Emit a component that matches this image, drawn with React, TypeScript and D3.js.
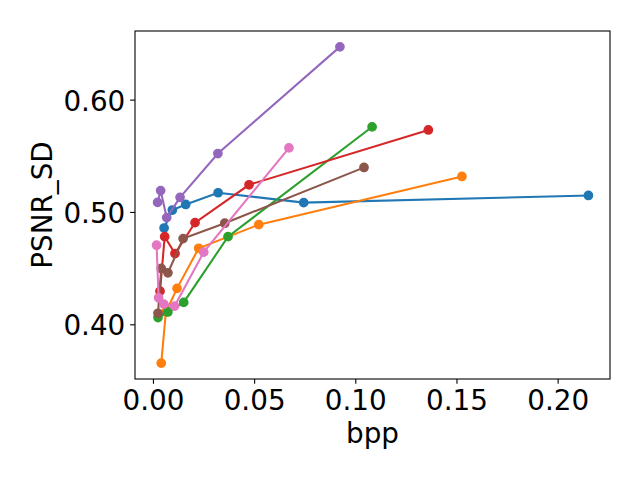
import React, { useEffect, useRef } from "react";
import * as d3 from "d3";

// values, one array pair per run
const colors = ["#1f77b4", "#ff7f0e", "#2ca02c", "#d62728", "#9467bd", "#8c564b", "#e377c2"];

const bpp0 = [0.0055, 0.0096, 0.0162, 0.0322, 0.0745, 0.2152];
const psnr0 = [0.4857, 0.5017, 0.5067, 0.5171, 0.5083, 0.5147];

const bpp1 = [0.0041, 0.0064, 0.0119, 0.0226, 0.0523, 0.1527];
const psnr1 = [0.3654, 0.411, 0.432, 0.4677, 0.4887, 0.5316];

const bpp2 = [0.0025, 0.0074, 0.0152, 0.0371, 0.1083];
const psnr2 = [0.406, 0.411, 0.4195, 0.478, 0.5757];

const bpp3 = [0.0035, 0.0058, 0.0109, 0.0208, 0.0475, 0.1361];
const psnr3 = [0.4295, 0.478, 0.463, 0.4905, 0.5242, 0.573];

const bpp4 = [0.0023, 0.0038, 0.0068, 0.0134, 0.0321, 0.0924];
const psnr4 = [0.5085, 0.519, 0.495, 0.513, 0.552, 0.647];

const bpp5 = [0.0025, 0.0041, 0.0074, 0.0149, 0.0355, 0.1043];
const psnr5 = [0.4098, 0.4497, 0.4458, 0.4763, 0.49, 0.5396];

const bpp6 = [0.0018, 0.0028, 0.0054, 0.0107, 0.0251, 0.0672];
const psnr6 = [0.4704, 0.4236, 0.418, 0.4162, 0.4642, 0.557];

const xTicks = [0, 0.05, 0.1, 0.15, 0.2];
const yTicks = [0.4, 0.5, 0.6];

const App: React.FC = () => {
  const svgRef = useRef<SVGSVGElement | null>(null);

  useEffect(() => {
    const svg = d3.select(svgRef.current);
    svg.selectAll("*").remove();

    const margin = { top: 31, right: 30, bottom: 101, left: 135 };
    const width = 640;
    const height = 480;
    const font = "DejaVu Sans";
    const fontSize = 27.8;
    const tick = 4.86;

    const series = [
      [bpp0, psnr0],
      [bpp1, psnr1],
      [bpp2, psnr2],
      [bpp3, psnr3],
      [bpp4, psnr4],
      [bpp5, psnr5],
      [bpp6, psnr6],
    ].map(([xs, ys], i) => ({
      color: colors[i],
      points: xs.map((x, j) => ({ x, y: ys[j] })),
    }));

    const allX = series.flatMap((s) => s.points.map((p) => p.x));
    const allY = series.flatMap((s) => s.points.map((p) => p.y));
    const [x0, x1] = d3.extent(allX) as [number, number];
    const [y0, y1] = d3.extent(allY) as [number, number];
    const padX = (x1 - x0) * 0.05;
    const padY = (y1 - y0) * 0.05;

    const x = d3
      .scaleLinear()
      .domain([x0 - padX, x1 + padX])
      .range([margin.left, width - margin.right]);
    const y = d3
      .scaleLinear()
      .domain([y0 - padY, y1 + padY])
      .range([height - margin.bottom, margin.top]);

    svg.attr("width", width).attr("height", height);

    svg.append("rect").attr("width", width).attr("height", height).attr("fill", "#fff");

    const line = d3
      .line<{ x: number; y: number }>()
      .x((d) => x(d.x))
      .y((d) => y(d.y));

    series.forEach((s) => {
      const g = svg.append("g");
      g.append("path")
        .attr("d", line(s.points))
        .attr("fill", "none")
        .attr("stroke", s.color)
        .attr("stroke-width", 2.08)
        .attr("stroke-linecap", "square");
      g.selectAll("circle")
        .data(s.points)
        .enter()
        .append("circle")
        .attr("cx", (d) => x(d.x))
        .attr("cy", (d) => y(d.y))
        .attr("r", 4.17)
        .attr("fill", s.color)
        .attr("stroke", s.color)
        .attr("stroke-width", 1.39);
    });

    // frame
    svg
      .append("rect")
      .attr("x", margin.left)
      .attr("y", margin.top)
      .attr("width", width - margin.left - margin.right)
      .attr("height", height - margin.top - margin.bottom)
      .attr("fill", "none")
      .attr("stroke", "#000")
      .attr("stroke-width", 1.1);

    const xAxis = d3.axisBottom(x).tickValues(xTicks).tickSize(tick).tickPadding(tick).tickFormat(d3.format(".2f"));
    const yAxis = d3.axisLeft(y).tickValues(yTicks).tickSize(tick).tickPadding(tick).tickFormat(d3.format(".2f"));

    const xg = svg
      .append("g")
      .attr("transform", `translate(0,${height - margin.bottom})`)
      .call(xAxis as any);
    const yg = svg
      .append("g")
      .attr("transform", `translate(${margin.left},0)`)
      .call(yAxis as any);

    [xg, yg].forEach((g) => {
      g.select(".domain").remove();
      g.selectAll(".tick line").attr("stroke", "#000").attr("stroke-width", 1.1);
      g.selectAll(".tick text")
        .style("font-family", font)
        .style("font-size", `${fontSize}px`)
        .attr("fill", "#000");
    });
    xg.selectAll(".tick text").attr("y", tick * 2).attr("dy", "0.76em");
    yg.selectAll(".tick text").attr("dy", "0.38em");

    svg
      .append("text")
      .attr("x", (margin.left + width - margin.right) / 2)
      .attr("y", 443)
      .attr("text-anchor", "middle")
      .style("font-family", font)
      .style("font-size", `${fontSize}px`)
      .text("bpp");

    svg
      .append("text")
      .attr("transform", `translate(52,${(margin.top + height - margin.bottom) / 2}) rotate(-90)`)
      .attr("text-anchor", "middle")
      .style("font-family", font)
      .style("font-size", `${fontSize}px`)
      .text("PSNR_SD");
  }, []);

  return <svg ref={svgRef} style={{ position: "absolute", left: 0, top: 0, display: "block" }} />;
};

export default App;
